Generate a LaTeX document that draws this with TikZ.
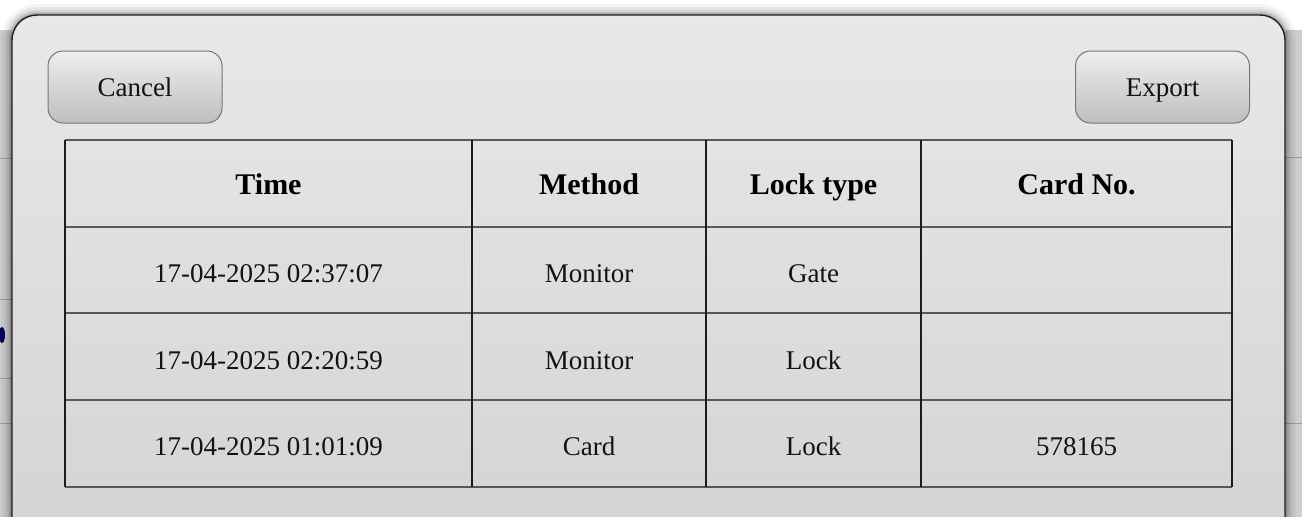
\documentclass[tikz,border=0pt]{standalone}
\usepackage{fontspec}
\setmainfont{Liberation Serif}
\definecolor{panelTop}{RGB}{232,232,232}
\definecolor{panelBot}{RGB}{211,211,211}
\definecolor{btnTop}{RGB}{238,238,238}
\definecolor{btnBot}{RGB}{190,190,190}
\definecolor{btnEdge}{RGB}{118,118,118}
\definecolor{rowGray}{RGB}{88,88,88}
\definecolor{colDark}{RGB}{28,28,28}
\definecolor{pageGray}{RGB}{206,206,206}
\definecolor{inkText}{RGB}{18,18,18}
\tikzset{
    btn/.style = {draw=btnEdge, line width=1pt, rounded corners=15pt,
        top color=btnTop, bottom color=btnBot,
        minimum width=174pt, minimum height=72pt, inner sep=0pt,
        text height=18pt, text depth=0pt, text=inkText,
        font=\fontsize{27}{32}\selectfont},
    headcell/.style = {anchor=base, inner sep=0pt, text=black,
        font=\fontsize{30}{36}\selectfont\bfseries},
    datacell/.style = {anchor=base, inner sep=0pt, text=inkText,
        font=\fontsize{27}{32}\selectfont},
    rowline/.style = {draw=rowGray, line width=2.5pt},
    colline/.style = {draw=colDark, line width=1.6pt},
}
\begin{document}
\begin{tikzpicture}[x=1pt, y=-1pt]
    \useasboundingbox (0,0) rectangle (1302,517);
    \fill[white] (0,0) rectangle (1302,517);
    % page behind the dialog
    \fill[pageGray] (0,30) rectangle (12,517);
    \fill[pageGray] (1285,30) rectangle (1302,517);
    \foreach \y in {158,299,378,423}
        \draw[gray!75, line width=1pt] (0,\y) -- (12,\y);
    \foreach \y in {157,423}
        \draw[gray!75, line width=1pt] (1285,\y) -- (1302,\y);
    \fill[blue!40!black] (2,335) ellipse (3pt and 8pt);
    % shadow
    \foreach \w/\o in {22/0.04,16/0.05,11/0.07,7/0.09,4/0.12}
        \draw[black, line width=\w pt, opacity=\o, rounded corners=25pt]
            (12,560) -- (12,15) -- (1285,15) -- (1285,560);
    % dialog panel
    \shade[top color=panelTop, bottom color=panelBot, rounded corners=25pt]
        (12,560) -- (12,15) -- (1285,15) -- (1285,560) -- cycle;
    \draw[gray!25!black, line width=1.4pt, rounded corners=25pt]
        (12,560) -- (12,15) -- (1285,15) -- (1285,560);
    % buttons
    \node[btn] (cancel) at (135,87) {Cancel};
    \node[btn] (export) at (1162.5,87) {Export};
    % table grid
    \foreach \y in {140,227,313,400,487}
        \draw[rowline] (65,\y) -- (1232,\y);
    \foreach \x in {65,472,706,921,1232}
        \draw[colline] (\x,140) -- (\x,487);
    % header
    \foreach \cx/\txt [count=\i] in {268.5/Time, 589/Method, 813.5/Lock type, 1076.5/Card No.}
        \node[headcell] (head\i) at (\cx,194) {\txt};
    % rows
    \foreach \by/\tm/\mth/\lck [count=\r] in {282/17-04-2025 02:37:07/Monitor/Gate,
                                              369/17-04-2025 02:20:59/Monitor/Lock,
                                              455/17-04-2025 01:01:09/Card/Lock}
    {
        \node[datacell] (time\r) at (268.5,\by) {\tm};
        \node[datacell] (method\r) at (589,\by) {\mth};
        \node[datacell] (lock\r) at (813.5,\by) {\lck};
    }
    \node[datacell] (card3) at (1076.5,455) {578165};
\end{tikzpicture}
\end{document}
